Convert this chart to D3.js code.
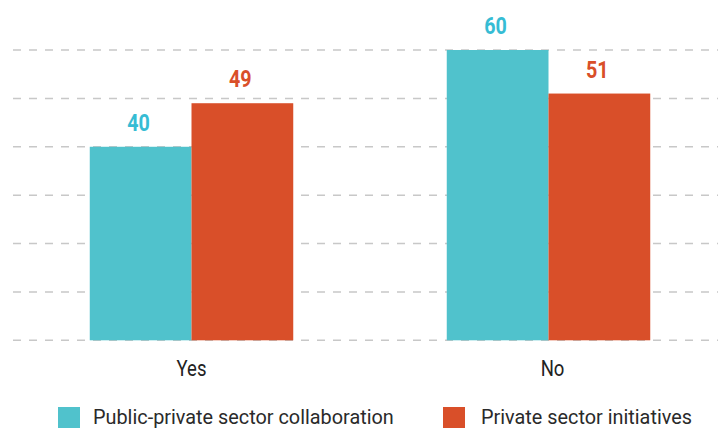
<!DOCTYPE html>
<html>
<head>
<meta charset="utf-8">
<script src="https://cdn.jsdelivr.net/npm/d3@7"></script>
<style>
  html, body { margin: 0; padding: 0; background: #fff; }
  svg { display: block; }
  text { font-family: Roboto, "Liberation Sans", sans-serif; }
</style>
</head>
<body>
<svg id="chart" width="718" height="428"></svg>
<script>
const categories = ["Yes", "No"];
const seriesNames = ["Public-private sector collaboration", "Private sector initiatives"];
const collaboration = [40, 60];
const initiatives = [49, 51];
const yTicks = [0, 10, 20, 30, 40, 50, 60];

const colors = { bar: ["#50c2cc", "#d94f29"], label: ["#36bcd4", "#d94f29"] };

const W = 718, H = 428;
const svg = d3.select("#chart");

// the original uses a condensed face; squeeze Roboto to match
function condense(sel, k = 0.84) {
    sel.each(function () {
        const w = this.getComputedTextLength();
        d3.select(this)
            .attr("textLength", w * k)
            .attr("lengthAdjust", "spacingAndGlyphs");
    });
}

const rows = categories.map((c, i) => ({ cat: c, vals: [collaboration[i], initiatives[i]] }));

// group scale spans a bit past the right edge, like the original
const x0 = d3.scaleBand()
    .domain(categories)
    .range([13, 727])
    .paddingInner(0.43)
    .paddingOuter(0.215);

const x1 = d3.scaleBand()
    .domain([0, 1])
    .range([0, x0.bandwidth()]);

const y = d3.scaleLinear()
    .domain([0, 60])
    .range([340.3, 50]);

// dashed horizontal grid
svg.append("g")
    .attr("class", "grid")
    .selectAll("line")
    .data(yTicks)
    .enter()
    .append("line")
    .attr("x1", 13)
    .attr("x2", W + 10)
    .attr("y1", d => y(d))
    .attr("y2", d => y(d))
    .attr("stroke", "#c8c8c8")
    .attr("stroke-width", 1.5)
    .attr("stroke-dasharray", "8,8");

// bars
const groups = svg.append("g")
    .selectAll("g")
    .data(rows)
    .enter()
    .append("g")
    .attr("transform", d => `translate(${x0(d.cat)},0)`);

groups.selectAll("rect")
    .data(d => d.vals.map((v, k) => ({ v, k })))
    .enter()
    .append("rect")
    .attr("x", d => x1(d.k))
    .attr("width", x1.bandwidth())
    .attr("y", d => y(d.v))
    .attr("height", d => y(0) - y(d.v))
    .attr("fill", d => colors.bar[d.k]);

// value labels
groups.selectAll("text.val")
    .data(d => d.vals.map((v, k) => ({ v, k })))
    .enter()
    .append("text")
    .attr("class", "val")
    .attr("x", d => x1(d.k) + x1.bandwidth() / 2 - 2)
    .attr("y", d => y(d.v) - 16)
    .attr("text-anchor", "middle")
    .attr("fill", d => colors.label[d.k])
    .style("font-size", "24px")
    .style("font-weight", "bold")
    .text(d => d.v)
    .call(condense, 0.82);

// x axis (labels only)
const xAxis = d3.axisBottom(x0).tickSize(0).tickPadding(0);
const xg = svg.append("g")
    .attr("transform", `translate(0,${y(0)})`)
    .call(xAxis);
xg.select(".domain").remove();
xg.selectAll("text")
    .attr("y", 36)
    .attr("dy", 0)
    .attr("fill", "#222")
    .style("font-family", "Roboto, sans-serif")
    .style("font-size", "21.5px")
    .call(condense, 0.86);
xg.selectAll(".tick").filter(d => d === "No")
    .select("text").attr("x", 4);

// legend
const legendX = [58, 443];
const legend = svg.append("g")
    .selectAll("g")
    .data(seriesNames)
    .enter()
    .append("g")
    .attr("transform", (d, i) => `translate(${legendX[i]},407)`);

legend.append("rect")
    .attr("width", 22)
    .attr("height", 21)
    .attr("fill", (d, i) => colors.bar[i]);

legend.append("text")
    .attr("x", (d, i) => i === 0 ? 35 : 38)
    .attr("y", 17)
    .attr("fill", "#2a2a2a")
    .style("font-size", "21px")
    .text(d => d)
    .call(condense, 0.945);
</script>
</body>
</html>
